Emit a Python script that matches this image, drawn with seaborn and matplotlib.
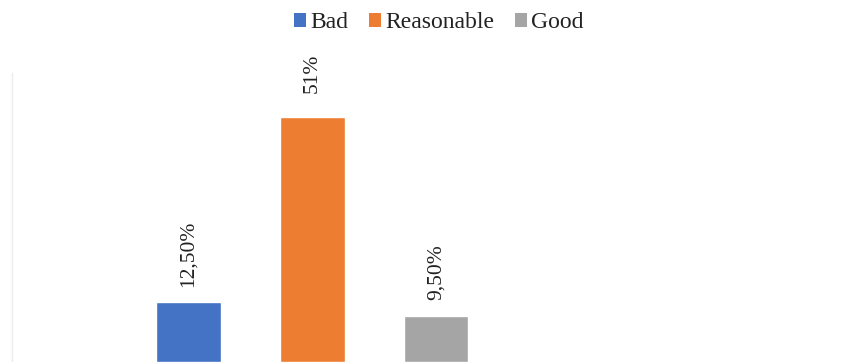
import matplotlib
matplotlib.use("Agg")
import matplotlib.pyplot as plt
from matplotlib.patches import Patch
import seaborn as sns
import pandas as pd

# Survey ratings and their shares
ratings = ["Bad", "Reasonable", "Good"]
shares = [12.5, 51.0, 9.5]
share_labels = ["12,50%", "51%", "9,50%"]
colors = ["#4472C4", "#ED7D31", "#A5A5A5"]

sns.set_theme(style="white")
plt.rcParams["font.family"] = ["Liberation Serif", "DejaVu Serif"]

df = pd.DataFrame({"rating": ratings, "share": shares})

fig = plt.figure(figsize=(8.46, 3.62), dpi=100)
ax = fig.add_axes([12 / 846, 0.0, 834 / 846, 289 / 362])

sns.barplot(data=df, x="rating", y="share", hue="rating",
            palette=colors, order=ratings, hue_order=ratings,
            width=0.525, dodge=False, saturation=1, legend=False, ax=ax)

ax.set_xlim(-1.426, 5.313)
ax.set_ylim(0, 60.2)
ax.set_xlabel("")
ax.set_ylabel("")
ax.set_xticks([])
ax.set_yticks([])
for side in ("top", "right", "bottom"):
    ax.spines[side].set_visible(False)
ax.spines["left"].set_color("#ececec")
ax.spines["left"].set_linewidth(1.0)

# value labels above each bar, rotated
paddings = [10.5, 17.5, 11.5]
for container, lab, pad in zip(ax.containers, share_labels, paddings):
    ax.bar_label(container, labels=[lab], rotation=90, padding=pad,
                 fontsize=15.5, color="#222222")

handles = [Patch(facecolor=c, edgecolor="none") for c in colors]
fig.legend(handles, ratings, loc="center", bbox_to_anchor=(0.519, 0.937),
           ncol=3, frameon=False, fontsize=17, handlelength=0.5,
           handleheight=0.5, handletextpad=0.17, columnspacing=0.9,
           labelcolor="#222222")

fig.savefig("out.png", dpi=100)
